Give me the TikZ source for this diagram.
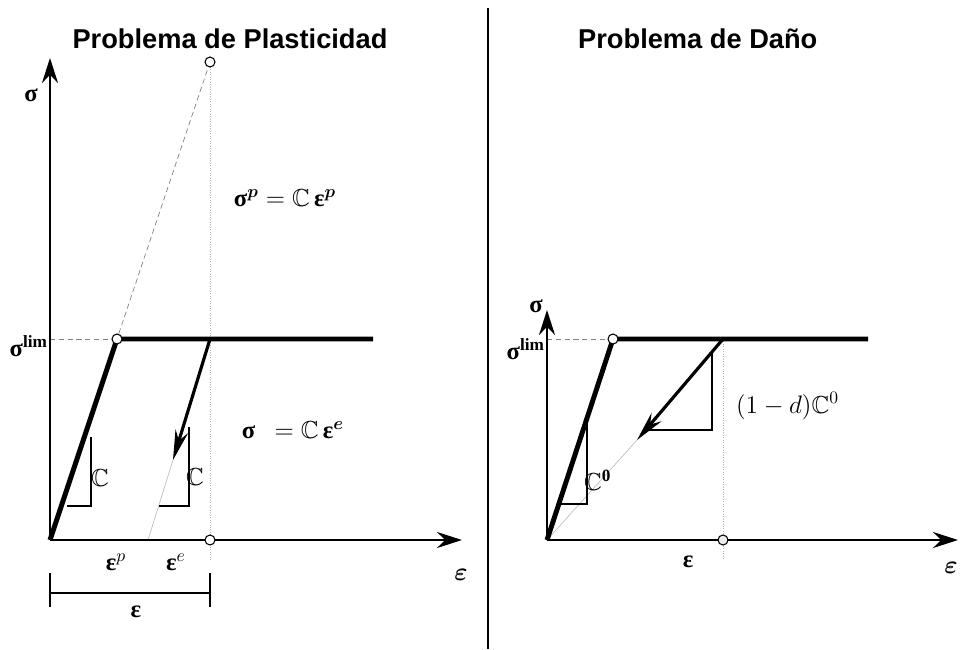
\documentclass[tikz,border=0pt]{standalone}
\usepackage{amsmath,amssymb}
\usepackage{fontspec}
\setmainfont{Liberation Serif}
\newfontfamily\titlefont{Liberation Sans}
\usetikzlibrary{arrows.meta}
\newcommand{\gsig}{\text{\bfseries σ}}
\newcommand{\geps}{\text{\bfseries ε}}
\tikzset{
  axis/.style={line width=1.2pt, -{Stealth[length=5mm,width=3.2mm]}},
  curve/.style={line width=2.8pt},
  unload/.style={line width=1.8pt, -{Stealth[length=6mm,width=2.6mm]}},
  guide/.style={gray!60, densely dotted, thin},
  dashguide/.style={gray, densely dashed, thin},
  slope/.style={line width=1pt},
  knot/.style={circle, draw, fill=white, inner sep=0pt, minimum size=2mm, line width=0.6pt},
  lbl/.style={font=\fontsize{14}{16}\selectfont, inner sep=1pt},
  title/.style={font=\titlefont\bfseries\fontsize{15.5}{18}\selectfont}
}
\begin{document}
\begin{tikzpicture}[x=0.2mm, y=-0.2mm]
  \useasboundingbox (0,0) rectangle (960,649);
  % plasticity
  \coordinate (O) at (50,540);
  \coordinate (Lim) at (50,339);
  \coordinate (Y) at (117,339);
  \coordinate (T) at (210,62);
  \coordinate (U) at (210,339);
  \coordinate (Pend) at (373,339);
  \coordinate (E) at (210,540);
  \coordinate (Ep) at (148,540);
  \coordinate (A) at (173,460);
  \node[title] (tPl) at (230,39) {Problema de Plasticidad};
  \draw[dashguide] (T) -- (Y);
  \draw[guide] (T) -- (210,560);
  \draw[dashguide] (Lim) -- (Y);
  \draw[gray!50, thin] (A) -- (Ep);
  \draw[axis] (O) -- (50,58);
  \draw[axis] (O) -- (462,540);
  \draw[curve] (O) -- (Y) -- (Pend);
  \draw[unload] (U) -- (A);
  \draw[slope] (67,506) -- (91,506) -- (91,437);
  \draw[slope] (159,506) -- (189,506) -- (189,427);
  \node[knot] (kY) at (Y) {};
  \node[knot] (kT) at (T) {};
  \node[knot] (kE) at (E) {};
  \node[lbl] (lSig) at (31,95) {$\gsig$};
  \node[lbl, anchor=east] (lLim) at (50,346) {$\gsig^{\mathbf{lim}}$};
  \node[lbl, anchor=west] (lC1) at (89,478) {$\mathbb{C}$};
  \node[lbl, anchor=west] (lC2) at (184,477) {$\mathbb{C}$};
  \node[lbl] (lFp) at (285,198) {$\gsig^{\boldsymbol{p}} = \mathbb{C}\,\geps^{\boldsymbol{p}}$};
  \node[lbl] (lFe) at (293,430) {$\gsig\ \ = \mathbb{C}\,\geps^{\boldsymbol{e}}$};
  \node[lbl] (lEp) at (116,562) {$\geps^{p}$};
  \node[lbl] (lEe) at (176,562) {$\geps^{e}$};
  \node[lbl] (lEx) at (461,575) {$\boldsymbol{\varepsilon}$};
  \draw[line width=0.9pt] (50,573) -- (50,607) (210,573) -- (210,607) (50,593) -- (210,593);
  \node[lbl] (lEb) at (136,612) {$\geps$};
  % divider
  \draw[line width=1.6pt] (488,8) -- (488,649);
  % damage
  \coordinate (O2) at (547,540);
  \coordinate (Lim2) at (547,339);
  \coordinate (Y2) at (613,339);
  \coordinate (U2) at (723,339);
  \coordinate (Pend2) at (868,339);
  \coordinate (E2) at (723,540);
  \coordinate (A2) at (637,440);
  \node[title, anchor=west] (tDa) at (572,39) {Problema de Daño};
  \draw[guide] (U2) -- (723,560);
  \draw[dashguide] (Lim2) -- (Y2);
  \draw[gray!50, thin] (A2) -- (O2);
  \draw[axis] (O2) -- (547,310);
  \draw[axis] (O2) -- (958,540);
  \draw[curve] (O2) -- (Y2) -- (Pend2);
  \draw[unload] (U2) -- (A2);
  \draw[slope] (559,504) -- (587,504) -- (587,418);
  \draw[slope] (643,430) -- (712,430) -- (712,352);
  \node[knot] (kY2) at (Y2) {};
  \node[knot, fill=gray!15] (kE2) at (E2) {};
  \node[lbl] (lSig2) at (536,306) {$\gsig$};
  \node[lbl, anchor=east] (lLim2) at (547,349) {$\gsig^{\mathbf{lim}}$};
  \node[lbl, anchor=west] (lC0) at (582,480) {$\mathbb{C}^{\mathbf{0}}$};
  \node[lbl, anchor=west] (lCd) at (734,406) {$(1-d)\mathbb{C}^{0}$};
  \node[lbl] (lE2) at (688,562) {$\geps$};
  \node[lbl] (lEx2) at (951,568) {$\boldsymbol{\varepsilon}$};
\end{tikzpicture}
\end{document}
